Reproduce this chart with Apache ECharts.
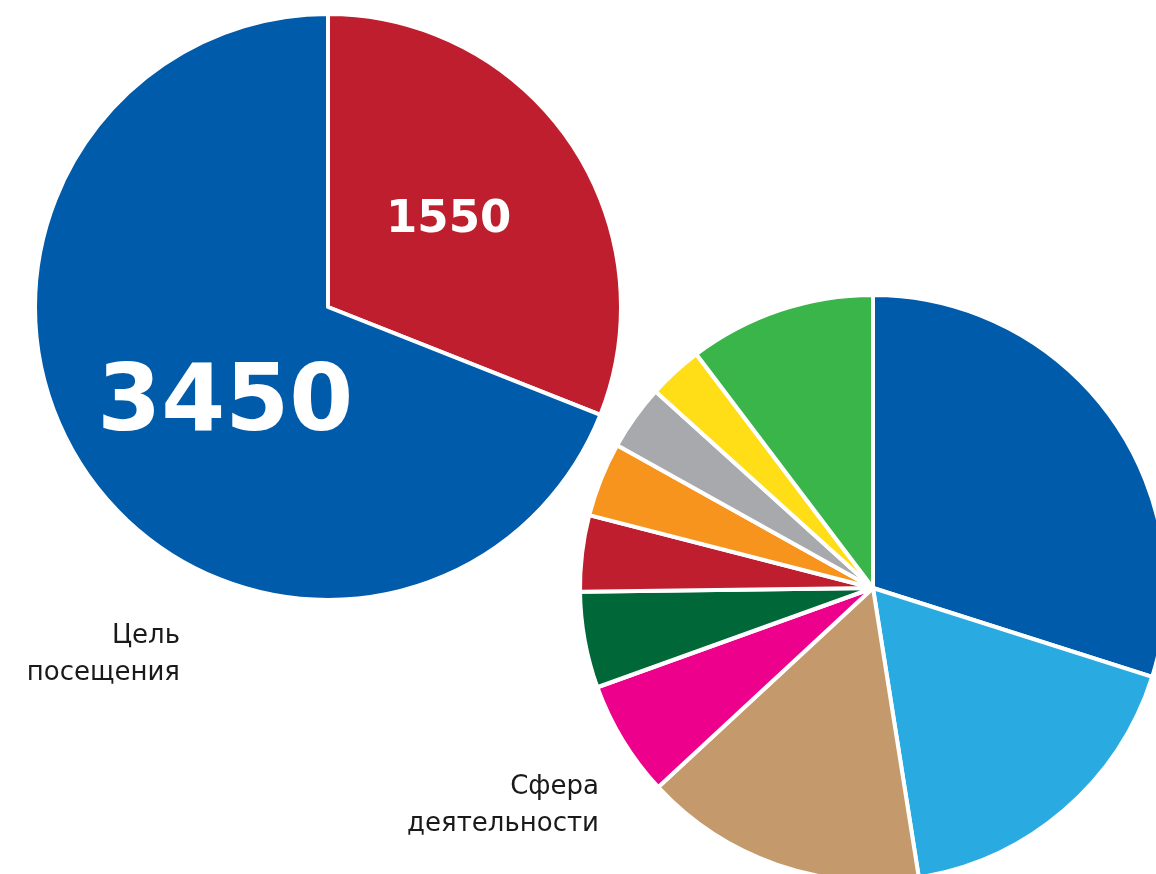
<!DOCTYPE html>
<html>
<head>
<meta charset="utf-8">
<script src="https://cdn.jsdelivr.net/npm/echarts@6/dist/echarts.min.js"></script>
<style>
  html, body { margin: 0; padding: 0; background: #fff; }
  #chart { width: 1156px; height: 874px; }
</style>
</head>
<body>
<div id="chart"></div>
<script>
// left pie: purpose of visit
const visitNames = ['A', 'B'];
const visitValues = [1550, 3450];
const visitColors = ['#BE1E2D', '#005BAA'];

// right pie: field of activity (shares, %)
const fieldValues = [29.9, 17.6, 15.6, 6.4, 5.3, 4.2, 4.1, 3.6, 3.0, 10.3];
const fieldColors = ['#005BAA', '#29ABE2', '#C49A6C', '#EC008C', '#006838',
  '#BE1E2D', '#F7941D', '#A7A9AC', '#FFDE17', '#39B54A'];

// captions, one entry per line
const visitCaption = ['Цель', 'посещения'];
const fieldCaption = ['Сфера', 'деятельности'];

const chart = echarts.init(document.getElementById('chart'));

const labelFont = { fontFamily: 'DejaVu Sans', fontWeight: 'bold', color: '#fff' };

const captionLines = (lines, x, y) => lines.map((t, i) => ({
  type: 'text',
  style: {
    text: t,
    x: x,
    y: y + i * 37,
    align: 'right',
    verticalAlign: 'top',
    fontFamily: 'DejaVu Sans',
    fontSize: 26,
    fill: '#1a1a1a',
  },
}));

const option = {
  backgroundColor: '#fff',
  animation: false,
  series: [
    {
      type: 'pie',
      center: [328, 307],
      radius: [0, 293],
      startAngle: 90,
      clockwise: true,
      silent: true,
      itemStyle: { borderColor: '#fff', borderWidth: 4 },
      label: { show: true, position: 'inside', formatter: '{c}', ...labelFont },
      labelLine: { show: false },
      data: visitValues.map((v, i) => ({
        name: visitNames[i],
        value: v,
        itemStyle: { color: visitColors[i] },
        label: i === 0
          ? { fontSize: 45, offset: [-3, -3] }
          : { fontSize: 92, offset: [21, 15] },
      })),
    },
    {
      type: 'pie',
      center: [873, 588],
      radius: [0, 293],
      startAngle: 90,
      clockwise: true,
      silent: true,
      itemStyle: { borderColor: '#fff', borderWidth: 4 },
      label: { show: false },
      labelLine: { show: false },
      data: fieldValues.map((v, i) => ({
        name: 'f' + i,
        value: v,
        itemStyle: { color: fieldColors[i] },
      })),
    },
  ],
  graphic: [
    ...captionLines(visitCaption, 180, 623),
    ...captionLines(fieldCaption, 599, 774),
  ],
};

chart.setOption(option);
</script>
</body>
</html>
